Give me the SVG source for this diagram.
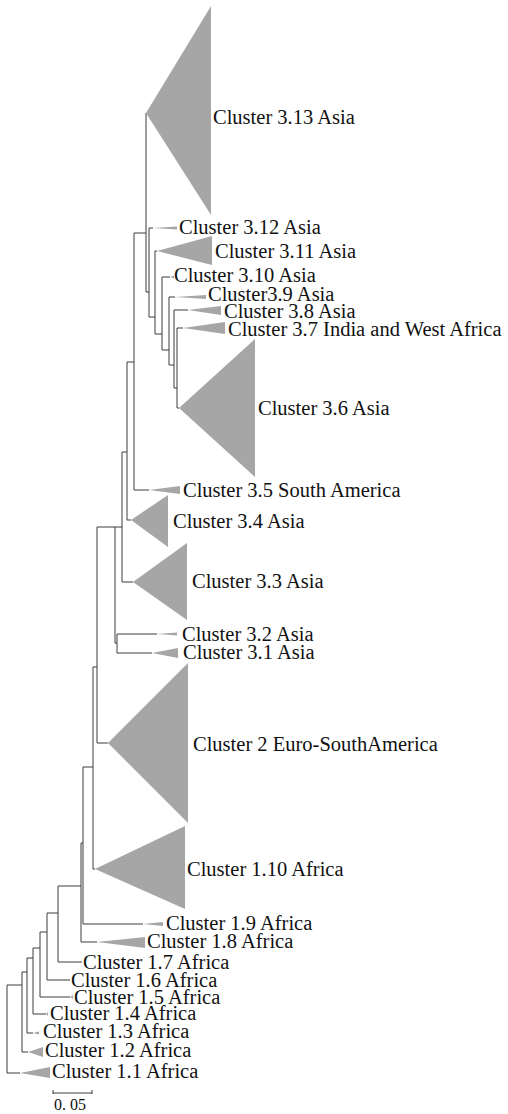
<svg xmlns="http://www.w3.org/2000/svg" width="508" height="1114" viewBox="0 0 508 1114">
<style>
.br{fill:none;stroke:#3c3c3c;stroke-width:1}
.tri{fill:#a6a6a6;stroke:none}
.lb{font-family:"Liberation Serif","Times New Roman",serif;font-size:20.5px;fill:#111}
.sc{font-family:"Liberation Serif","Times New Roman",serif;font-size:16px;fill:#111}
</style>
<rect width="508" height="1114" fill="#fff"/>
<g id="connectors">
<path class="br" d="M7,985 V1073 H20 M7,985 H22
M22,972 V1052 H28 M22,972 H27
M27,958 V1033 H33 M27,958 H33
M33,948 V1014 H46 M33,948 H40
M40,932 V997 H70 M40,932 H47
M47,913 V980 H70 M47,913 H58
M58,886 V962 H82 M58,886 H81
M81,843 V942 H97 M81,843 H83
M83,767 V924 H143 M83,767 H93
M93,667 V869 H95 M93,667 H97
M97,527 V743 H108 M97,527 H122
M115,527 V643 H117
M117,634 V653 H152 M117,634 H157
M122,452 V582 H133 M122,452 H127
M127,362 V520 H131 M127,362 H134
M134,233 V490 H149 M134,233 H146
M146,113 V292 H149
M149,228 V317 H155 M149,228 H153
M155,251 V334 H162 M155,251 H157
M162,277 V350 H169 M162,277 H170
M169,297 V365 H174 M169,297 H175
M174,310 V388 H177 M174,310 H188
M177,328 V408 H179 M177,328 H183"/>
</g>
<g id="c3_13"><polygon class="tri" points="146,113 211,6 211,215"/><text class="lb" x="213" y="124">Cluster 3.13 Asia</text></g>
<g id="c3_12"><polygon class="tri" points="153,228 177,226.5 177,229.5"/><text class="lb" x="179" y="234">Cluster 3.12 Asia</text></g>
<g id="c3_11"><polygon class="tri" points="157,251 212,236 212,265"/><text class="lb" x="215" y="258">Cluster 3.11 Asia</text></g>
<g id="c3_10"><polygon class="tri" points="170,277 174,275.5 174,278.5"/><text class="lb" x="174" y="282">Cluster 3.10 Asia</text></g>
<g id="c3_9"><polygon class="tri" points="175,297 206,295 206,299"/><text class="lb" x="208" y="301">Cluster3.9 Asia</text></g>
<g id="c3_8"><polygon class="tri" points="188,310 221,306 221,315"/><text class="lb" x="224" y="318">Cluster 3.8 Asia</text></g>
<g id="c3_7"><polygon class="tri" points="183,328 225,322 225,334"/><text class="lb" x="228" y="336">Cluster 3.7 India and West Africa</text></g>
<g id="c3_6"><polygon class="tri" points="179,408 255,339 255,477"/><text class="lb" x="258" y="415">Cluster 3.6 Asia</text></g>
<g id="c3_5"><polygon class="tri" points="149,490 180,486 180,494"/><text class="lb" x="183" y="497">Cluster 3.5 South America</text></g>
<g id="c3_4"><polygon class="tri" points="131,520 168,495 168,547"/><text class="lb" x="173" y="528">Cluster 3.4 Asia</text></g>
<g id="c3_3"><polygon class="tri" points="133,582 187,543 187,620"/><text class="lb" x="192" y="588">Cluster 3.3 Asia</text></g>
<g id="c3_2"><polygon class="tri" points="157,634 177,632.5 177,635.5"/><text class="lb" x="182" y="641">Cluster 3.2 Asia</text></g>
<g id="c3_1"><polygon class="tri" points="152,653 178,648 178,658"/><text class="lb" x="183" y="659">Cluster 3.1 Asia</text></g>
<g id="c2"><polygon class="tri" points="108,743 188,663 188,823"/><text class="lb" x="193" y="751">Cluster 2 Euro-SouthAmerica</text></g>
<g id="c1_10"><polygon class="tri" points="95,869 185,826 185,909"/><text class="lb" x="187" y="876">Cluster 1.10 Africa</text></g>
<g id="c1_9"><polygon class="tri" points="143,924 163,922 163,926"/><text class="lb" x="166" y="930">Cluster 1.9 Africa</text></g>
<g id="c1_8"><polygon class="tri" points="97,942 145,937 145,948"/><text class="lb" x="147" y="948">Cluster 1.8 Africa</text></g>
<g id="c1_7"><text class="lb" x="83" y="969">Cluster 1.7 Africa</text></g>
<g id="c1_6"><text class="lb" x="71" y="987">Cluster 1.6 Africa</text></g>
<g id="c1_5"><polygon class="tri" points="70,997 73,995 73,999"/><text class="lb" x="74" y="1004">Cluster 1.5 Africa</text></g>
<g id="c1_4"><polygon class="tri" points="46,1014 48,1012 48,1016"/><text class="lb" x="50" y="1020">Cluster 1.4 Africa</text></g>
<g id="c1_3"><polygon class="tri" points="33,1033 39,1031.5 39,1034.5"/><text class="lb" x="43" y="1038">Cluster 1.3 Africa</text></g>
<g id="c1_2"><polygon class="tri" points="28,1052 43,1047 43,1057"/><text class="lb" x="45" y="1057">Cluster 1.2 Africa</text></g>
<g id="c1_1"><polygon class="tri" points="20,1073 50,1067 50,1078"/><text class="lb" x="52" y="1078">Cluster 1.1 Africa</text></g>
<g id="scale"><path class="br" d="M53,1093 H92 M53,1090 V1094 M92,1090 V1094"/><text class="sc" x="54" y="1110">0. 05</text></g>
</svg>
